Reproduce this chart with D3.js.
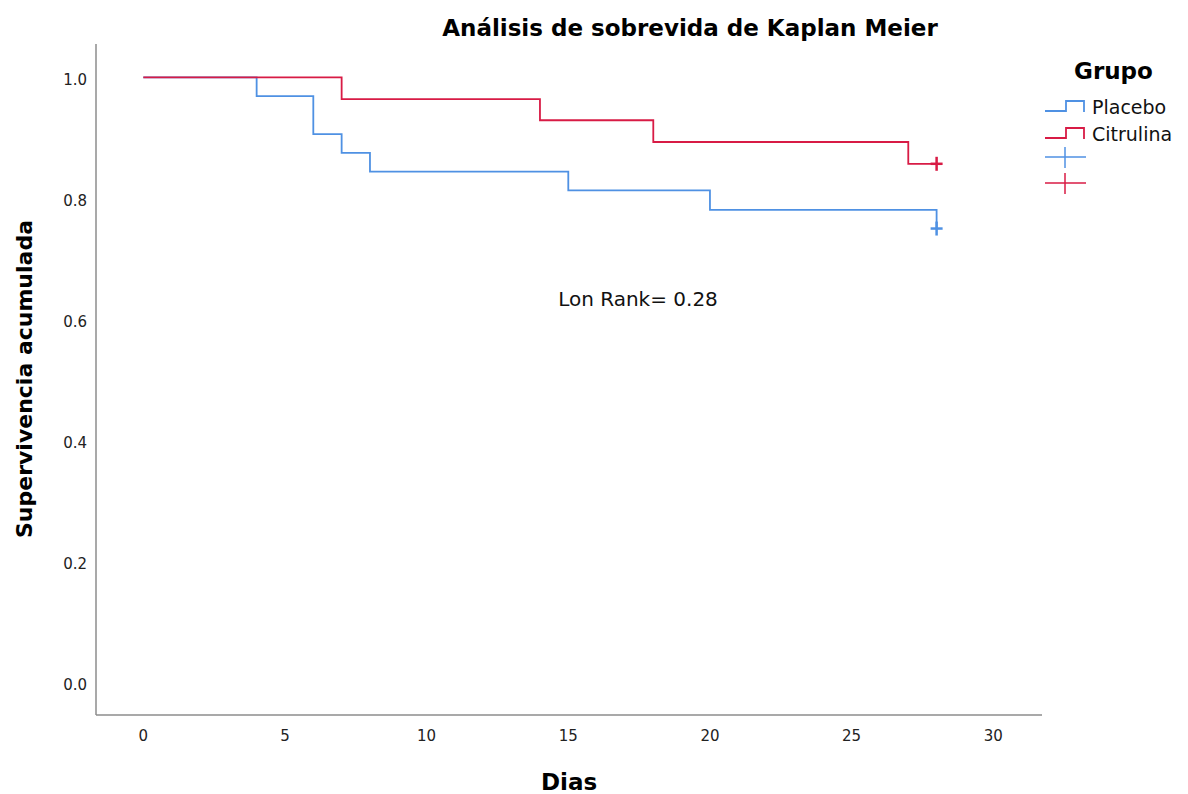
<!DOCTYPE html>
<html>
<head>
<meta charset="utf-8">
<script src="https://cdn.jsdelivr.net/npm/d3@7"></script>
<style>
  body { margin: 0; background: #fff; }
  text { font-family: "DejaVu Sans", sans-serif; }
</style>
</head>
<body>
<div id="chart"></div>
<script>
// data
var groups = ["Placebo", "Citrulina"];
var placeboDays = [0, 4, 6, 7, 8, 15, 20, 28];
var placeboSurv = [1.0, 0.969, 0.906, 0.875, 0.844, 0.813, 0.781, 0.75];
var citrulinaDays = [0, 7, 14, 18, 27, 28];
var citrulinaSurv = [1.0, 0.964, 0.929, 0.893, 0.857, 0.857];
var censorDays = [28, 28];
var censorSurv = [0.75, 0.857];
var xTicks = [0, 5, 10, 15, 20, 25, 30];
var yTicks = [0.0, 0.2, 0.4, 0.6, 0.8, 1.0];
var colors = ["#4f91e3", "#d81b45"];

var W = 1188, H = 794;
var svg = d3.select("#chart").append("svg").attr("width", W).attr("height", H);

// scales: plot frame from x=96..1042, y=44..715
var x = d3.scaleLinear().domain([-1.67, 31.72]).range([96, 1042]);
var y = d3.scaleLinear().domain([-0.054, 1.055]).range([715, 44]);

// axes lines, no ticks
var axisColor = "#8c8c8c";
svg.append("line").attr("x1", 96).attr("x2", 96).attr("y1", 44).attr("y2", 715)
  .attr("stroke", axisColor).attr("stroke-width", 1.5);
svg.append("line").attr("x1", 96).attr("x2", 1042).attr("y1", 715).attr("y2", 715)
  .attr("stroke", axisColor).attr("stroke-width", 1.5);

svg.selectAll(".xtick").data(xTicks).enter().append("text")
  .attr("class", "xtick")
  .attr("x", function(d){ return x(d); })
  .attr("y", 741)
  .attr("text-anchor", "middle")
  .style("font-size", "15px").attr("fill", "#222")
  .text(function(d){ return d; });

svg.selectAll(".ytick").data(yTicks).enter().append("text")
  .attr("class", "ytick")
  .attr("x", 87)
  .attr("y", function(d){ return y(d) + 8; })
  .attr("text-anchor", "end")
  .style("font-size", "15px").attr("fill", "#222")
  .text(function(d){ return d.toFixed(1); });

// titles
svg.append("text").attr("x", 690).attr("y", 36).attr("text-anchor", "middle")
  .style("font-size", "23px").style("font-weight", "bold")
  .text("Análisis de sobrevida de Kaplan Meier");
svg.append("text").attr("x", 569).attr("y", 790).attr("text-anchor", "middle")
  .style("font-size", "23px").style("font-weight", "bold")
  .text("Dias");
svg.append("text").attr("transform", "translate(32,379) rotate(-90)")
  .attr("text-anchor", "middle")
  .style("font-size", "22px").style("font-weight", "bold")
  .text("Supervivencia acumulada");

svg.append("text").attr("x", 638).attr("y", 306).attr("text-anchor", "middle")
  .style("font-size", "20px").attr("fill", "#111")
  .text("Lon Rank= 0.28");

// survival step curves
var line = d3.line()
  .x(function(d){ return x(d[0]); })
  .y(function(d){ return y(d[1]); })
  .curve(d3.curveStepAfter);

var series = [
  d3.zip(placeboDays, placeboSurv),
  d3.zip(citrulinaDays, citrulinaSurv)
];

svg.selectAll(".km").data(series).enter().append("path")
  .attr("class", "km")
  .attr("d", line)
  .attr("fill", "none")
  .attr("stroke", function(d, i){ return colors[i]; })
  .attr("stroke-width", 1.8);

// censor marks
var cs = 6, ch = 7;
censorDays.forEach(function(d, i){
  var g = svg.append("g").attr("stroke", colors[i]).attr("stroke-width", 2.5);
  g.append("line").attr("x1", x(d) - cs).attr("x2", x(d) + cs)
    .attr("y1", y(censorSurv[i])).attr("y2", y(censorSurv[i]));
  g.append("line").attr("x1", x(d)).attr("x2", x(d))
    .attr("y1", y(censorSurv[i]) - ch).attr("y2", y(censorSurv[i]) + ch);
});

// legend
var lg = svg.append("g");
lg.append("text").attr("x", 1074).attr("y", 79)
  .style("font-size", "23px").style("font-weight", "bold").text("Grupo");

groups.forEach(function(name, i){
  var yy = 111 + i * 27;
  lg.append("path")
    .attr("d", "M1045," + yy + " H1066 V" + (yy - 10) + " H1084 V" + (yy + 1))
    .attr("fill", "none").attr("stroke", colors[i]).attr("stroke-width", 1.8);
  lg.append("text").attr("x", 1092).attr("y", yy + 3)
    .style("font-size", "19px").attr("fill", "#111").text(name);
});

groups.forEach(function(name, i){
  var yy = 157 + i * 26;
  lg.append("line").attr("x1", 1045).attr("x2", 1086).attr("y1", yy).attr("y2", yy)
    .attr("stroke", colors[i]).attr("stroke-width", 1.5);
  lg.append("line").attr("x1", 1065).attr("x2", 1065).attr("y1", yy - 10).attr("y2", yy + 11)
    .attr("stroke", colors[i]).attr("stroke-width", 1.5);
});
</script>
</body>
</html>
